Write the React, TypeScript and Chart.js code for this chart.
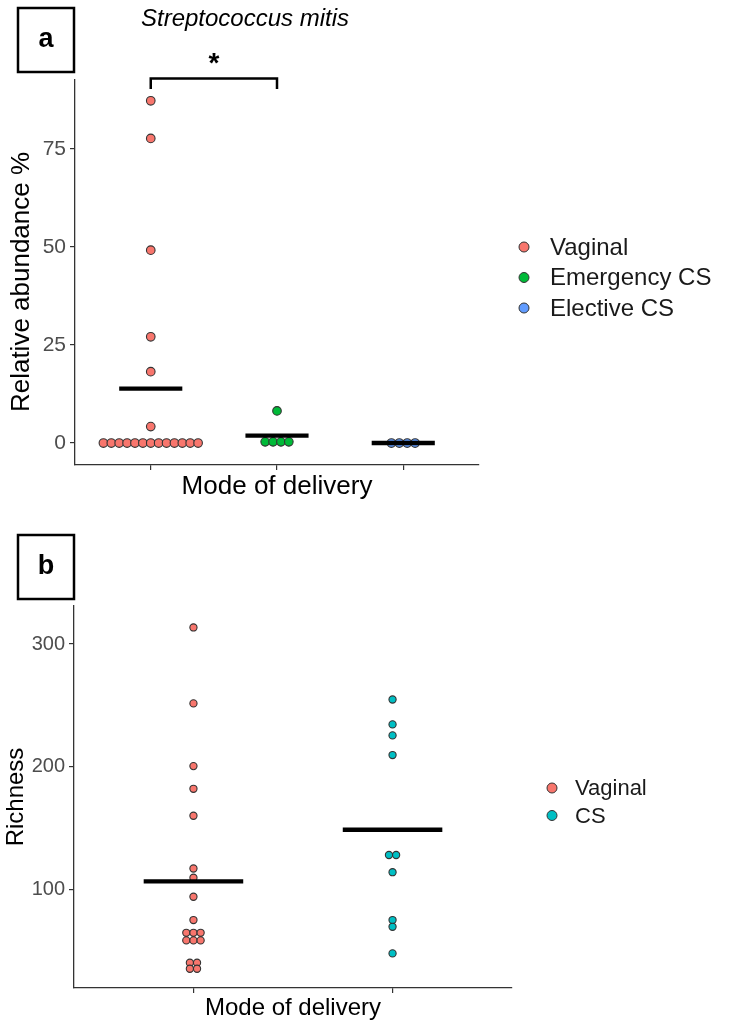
import React, { useEffect, useRef } from "react";
import { Chart, registerables } from "chart.js";

Chart.register(...registerables);

const FONT = "'Liberation Sans', Arial, Helvetica, sans-serif";

// ---------- Panel a data ----------
const groupsA = ["Vaginal", "Emergency CS", "Elective CS"];
const colorsA = ["#F8766D", "#00BA38", "#619CFF"];
const vaginalA = [87.3, 77.7, 49.2, 27.1, 18.2, 4.2, 0, 0, 0, 0, 0, 0, 0, 0, 0, 0, 0, 0, 0];
const emergencyA = [8.2, 0.3, 0.3, 0.3, 0.3];
const electiveA = [0, 0, 0, 0];
const ticksA = [0, 25, 50, 75];
const rangeA = [-5.6, 92.6];

// ---------- Panel b data ----------
const groupsB = ["Vaginal", "CS"];
const colorsB = ["#F8766D", "#00BFC4"];
const vaginalB = [313.5, 251.6, 200.5, 182, 160, 117, 109.5, 94, 75, 64.6, 64.6, 64.6, 58.4, 58.4, 58.4, 40.2, 40.2, 35.3, 35.3];
const csB = [254.8, 234.5, 225.5, 209.5, 128, 128, 114, 75, 69.5, 47.8];
const ticksB = [100, 200, 300];
const rangeB = [19.6, 331];

type Panel = {
  label: string;
  title?: string;
  groups: string[];
  colors: string[];
  values: number[][];
  ticks: number[];
  range: number[];
  height: number;
  top: number;
  area: { left: number; top: number; right: number; bottom: number };
  pointRadius: number;
  dotStep: number;
  tickFont: number;
  axisFont: number;
  legendFont: number;
  legend: { x: number; y: number; gap: number; textX: number; r: number };
  yTitle: string;
  yTitleX: number;
  yTitleY?: number;
  xTitle: string;
  xTitleY: number;
  box: { x: number; y: number; w: number; h: number };
  titlePos?: { x: number; y: number; size: number };
  bracket?: { from: number; to: number; y: number; drop: number; text: string; textY: number };
};

const panelA: Panel = {
  label: "a",
  title: "Streptococcus mitis",
  groups: groupsA,
  colors: colorsA,
  values: [vaginalA, emergencyA, electiveA],
  ticks: ticksA,
  range: rangeA,
  height: 515,
  top: 0,
  area: { left: 75, top: 80, right: 479, bottom: 465 },
  pointRadius: 4.3,
  dotStep: 0.0625,
  tickFont: 21,
  axisFont: 26,
  legendFont: 24,
  legend: { x: 524, y: 247, gap: 30.5, textX: 550, r: 5 },
  yTitle: "Relative abundance %",
  yTitleX: 22,
  yTitleY: 282,
  xTitle: "Mode of delivery",
  xTitleY: 487,
  box: { x: 18, y: 8, w: 56, h: 64 },
  titlePos: { x: 245, y: 19, size: 24 },
  bracket: { from: 1, to: 2, y: 78.5, drop: 10.5, text: "*", textY: 72 },
};

const panelB: Panel = {
  label: "b",
  groups: groupsB,
  colors: colorsB,
  values: [vaginalB, csB],
  ticks: ticksB,
  range: rangeB,
  height: 513,
  top: 515,
  area: { left: 74, top: 91, right: 512, bottom: 473 },
  pointRadius: 3.6,
  dotStep: 0.036,
  tickFont: 20,
  axisFont: 24,
  legendFont: 22,
  legend: { x: 552, y: 273, gap: 27.5, textX: 575, r: 5 },
  yTitle: "Richness",
  yTitleX: 16,
  xTitle: "Mode of delivery",
  xTitleY: 493,
  box: { x: 18, y: 20, w: 56, h: 64 },
};

function stack(vals: number[], cat: number, step: number) {
  const counts = new Map<number, number>();
  vals.forEach((v) => counts.set(v, (counts.get(v) || 0) + 1));
  const seen = new Map<number, number>();
  return vals.map((v) => {
    const n = counts.get(v) as number;
    const k = seen.get(v) || 0;
    seen.set(v, k + 1);
    return { x: cat + (k - (n - 1) / 2) * step, y: v };
  });
}

const mean = (a: number[]) => a.reduce((s, v) => s + v, 0) / a.length;

function makeAnnot(p: Panel) {
  return {
    id: "annot_" + p.label,
    afterDraw(chart: any) {
      const ctx = chart.ctx as CanvasRenderingContext2D;
      const xs = chart.scales.x;
      const ca = chart.chartArea;
      ctx.save();
      // label box
      ctx.strokeStyle = "#000";
      ctx.lineWidth = 2.5;
      ctx.strokeRect(p.box.x, p.box.y, p.box.w, p.box.h);
      ctx.fillStyle = "#000";
      ctx.font = `bold 27px ${FONT}`;
      ctx.textAlign = "center";
      ctx.textBaseline = "middle";
      ctx.fillText(p.label, p.box.x + p.box.w / 2, p.box.y + p.box.h / 2);

      // title
      if (p.title && p.titlePos) {
        ctx.font = `italic ${p.titlePos.size}px ${FONT}`;
        ctx.fillStyle = "#000";
        ctx.fillText(p.title, p.titlePos.x, p.titlePos.y);
      }

      // significance bracket
      if (p.bracket) {
        const b = p.bracket;
        const x1 = xs.getPixelForValue(b.from);
        const x2 = xs.getPixelForValue(b.to);
        ctx.lineWidth = 2.5;
        ctx.strokeStyle = "#000";
        ctx.beginPath();
        ctx.moveTo(x1, b.y + b.drop);
        ctx.lineTo(x1, b.y);
        ctx.lineTo(x2, b.y);
        ctx.lineTo(x2, b.y + b.drop);
        ctx.stroke();
        ctx.font = `bold 28px ${FONT}`;
        ctx.textBaseline = "alphabetic";
        ctx.fillText(b.text, (x1 + x2) / 2, b.textY);
        ctx.textBaseline = "middle";
      }

      // legend
      ctx.textAlign = "left";
      ctx.font = `${p.legendFont}px ${FONT}`;
      chart.data.datasets.forEach((ds: any) => {
        if (ds.isMean) return;
        const i = ds.groupIndex;
        const y = p.legend.y + i * p.legend.gap;
        ctx.beginPath();
        ctx.arc(p.legend.x, y, p.legend.r, 0, Math.PI * 2);
        ctx.fillStyle = ds.backgroundColor;
        ctx.fill();
        ctx.lineWidth = 1;
        ctx.strokeStyle = "#333";
        ctx.stroke();
        ctx.fillStyle = "#1a1a1a";
        ctx.fillText(ds.label, p.legend.textX, y + 1);
      });

      // axis titles
      ctx.fillStyle = "#000";
      ctx.textAlign = "center";
      ctx.font = `${p.axisFont}px ${FONT}`;
      ctx.fillText(p.xTitle, (ca.left + ca.right) / 2, p.xTitleY);
      ctx.save();
      ctx.translate(p.yTitleX, p.yTitleY ?? (ca.top + ca.bottom) / 2);
      ctx.rotate(-Math.PI / 2);
      ctx.fillText(p.yTitle, 0, 0);
      ctx.restore();
      ctx.restore();
    },
  };
}

function buildConfig(p: Panel): any {
  const pointSets = p.values.map((vals, gi) => ({
    type: "scatter",
    label: p.groups[gi],
    groupIndex: gi,
    data: stack(vals, gi + 1, p.dotStep),
    backgroundColor: p.colors[gi],
    borderColor: "#333",
    borderWidth: 1.1,
    pointRadius: p.pointRadius,
    pointHoverRadius: p.pointRadius,
    order: 2,
  }));
  const meanSets = p.values.map((vals, gi) => {
    const m = mean(vals);
    return {
      type: "scatter",
      label: "mean " + p.groups[gi],
      isMean: true,
      data: [
        { x: gi + 1 - 0.25, y: m },
        { x: gi + 1 + 0.25, y: m },
      ],
      showLine: true,
      borderColor: "#000",
      backgroundColor: "#000",
      borderWidth: 4.4,
      borderCapStyle: "butt",
      pointRadius: 0,
      pointHoverRadius: 0,
      order: 1,
    };
  });
  const axisGrid = {
    drawOnChartArea: false,
    drawTicks: true,
    tickLength: 5,
    color: "#333",
    lineWidth: 1.2,
  };
  const axisBorder = { display: true, color: "#333", width: 1.3 };
  return {
    type: "scatter",
    data: { datasets: [...pointSets, ...meanSets] },
    options: {
      animation: false,
      responsive: false,
      devicePixelRatio: 1,
      events: [],
      layout: { padding: { left: 0, top: p.area.top, right: 733 - p.area.right, bottom: 0 } },
      plugins: { legend: { display: false }, tooltip: { enabled: false } },
      scales: {
        x: {
          type: "linear",
          min: 0.4,
          max: p.groups.length + 0.6,
          afterBuildTicks: (s: any) => {
            s.ticks = p.groups.map((_, i) => ({ value: i + 1 }));
          },
          ticks: { callback: () => "", autoSkip: false, padding: 0 },
          grid: axisGrid,
          border: axisBorder,
          afterFit: (s: any) => {
            s.height = p.height - p.area.bottom;
          },
        },
        y: {
          type: "linear",
          min: p.range[0],
          max: p.range[1],
          afterBuildTicks: (s: any) => {
            s.ticks = p.ticks.map((v) => ({ value: v }));
          },
          ticks: {
            autoSkip: false,
            color: "#4D4D4D",
            padding: 4,
            font: { size: p.tickFont, family: FONT },
          },
          grid: axisGrid,
          border: axisBorder,
          afterFit: (s: any) => {
            s.width = p.area.left;
          },
        },
      },
    },
    plugins: [makeAnnot(p)],
  };
}

function PanelChart({ spec }: { spec: Panel }) {
  const ref = useRef<HTMLCanvasElement>(null);
  useEffect(() => {
    const chart = new Chart(ref.current as HTMLCanvasElement, buildConfig(spec));
    return () => chart.destroy();
  }, [spec]);
  return (
    <canvas
      ref={ref}
      width={733}
      height={spec.height}
      style={{ position: "absolute", left: 0, top: spec.top, display: "block" }}
    />
  );
}

export default function App() {
  return (
    <div style={{ position: "absolute", left: 0, top: 0, width: 733, height: 1028, background: "#fff" }}>
      <PanelChart spec={panelA} />
      <PanelChart spec={panelB} />
    </div>
  );
}
